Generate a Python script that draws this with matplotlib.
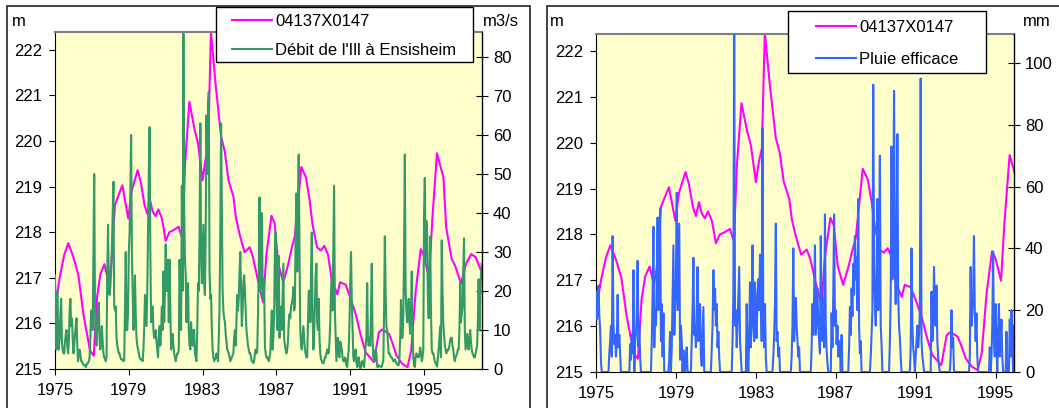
import matplotlib.pyplot as plt
import numpy as np
from matplotlib.patches import Rectangle
from matplotlib.lines import Line2D

plt.rcParams['font.family'] = ['Liberation Sans', 'DejaVu Sans']
plt.rcParams['font.size'] = 12

# Piezometer 04137X0147 (m), read at irregular dates
piezo_dates = [1975.0, 1975.25, 1975.5, 1975.72, 1976.0, 1976.27, 1976.54, 1976.9, 1977.1,
               1977.28, 1977.46, 1977.68, 1977.9, 1978.05, 1978.25, 1978.65, 1978.97, 1979.15,
               1979.48, 1979.65, 1979.85, 1980.0, 1980.15, 1980.3, 1980.45, 1980.6, 1980.8,
               1981.0, 1981.2, 1981.45, 1981.7, 1981.9, 1982.05, 1982.28, 1982.57, 1982.75,
               1983.0, 1983.15, 1983.3, 1983.45, 1983.7, 1984.0, 1984.2, 1984.4, 1984.67,
               1984.8, 1985.0, 1985.27, 1985.55, 1985.73, 1986.0, 1986.28, 1986.46, 1986.73,
               1986.9, 1987.1, 1987.37, 1987.64, 1987.8, 1988.0, 1988.35, 1988.6, 1988.8,
               1988.95, 1989.2, 1989.4, 1989.6, 1989.8, 1990.0, 1990.3, 1990.45, 1990.75,
               1991.0, 1991.3, 1991.55, 1991.83, 1992.28, 1992.55, 1992.74, 1993.1, 1993.28,
               1993.5, 1993.8, 1994.1, 1994.3, 1994.55, 1994.82, 1995.0, 1995.27, 1995.45,
               1995.7, 1996.05, 1996.2, 1996.5, 1996.7, 1997.0, 1997.27, 1997.55, 1997.8, 1998.14]
piezo_levels = [216.32, 217.0, 217.5, 217.76, 217.45, 217.05, 216.2, 215.4, 215.29,
                216.58, 217.08, 217.3, 216.9, 217.3, 218.6, 219.03, 218.3, 218.9,
                219.36, 219.1, 218.6, 218.4, 218.7, 218.45, 218.35, 218.5, 218.3,
                217.81, 218.0, 218.05, 218.12, 217.85, 219.5, 220.86, 220.24, 219.95,
                219.14, 219.58, 219.87, 222.4, 221.26, 220.1, 219.77, 219.14, 218.78,
                218.33, 217.96, 217.56, 217.67, 217.45, 216.94, 216.46, 217.52, 218.36,
                218.2, 217.3, 216.9, 217.3, 217.6, 217.92, 219.43, 219.2, 218.7,
                218.18, 217.67, 217.6, 217.7, 217.5, 216.94, 216.64, 216.9, 216.85,
                216.57, 216.2, 215.77, 215.37, 215.15, 215.8, 215.87, 215.77, 215.58,
                215.3, 215.12, 215.04, 215.4, 216.72, 217.63, 217.47, 216.99, 218.3,
                219.73, 219.2, 218.1, 217.41, 217.25, 216.87, 217.3, 217.52, 217.45, 217.1]

# Discharge of the Ill at Ensisheim (m3/s), twice a month from Jan 1975
debit_ill = [
    24, 8, 5, 20, 10, 5, 8, 14, 18, 7, 5, 4, 4, 7, 9, 10, 6, 4, 7, 15, 18, 11, 13, 8,             # 1975
    4, 6, 9, 11, 13, 6, 2, 4, 5, 4, 2, 2, 1.5, 1, 1, 1, 0.5, 1, 1.5, 1.5, 2, 3, 8, 15,           # 1976
    15, 10, 30, 50, 16, 8, 6, 10, 16, 17, 8, 5, 8, 11, 7, 4, 3, 2.5, 2, 3, 25, 37, 20, 19,       # 1977
    21, 25, 31, 40, 48, 16, 15, 16, 8, 6, 5, 4, 4, 3, 2.5, 2.5, 2.3, 2, 2.3, 15, 30, 10, 10, 15, # 1978
    30, 35, 45, 60, 30, 20, 10, 15, 24, 14, 8, 6, 5, 4, 3, 2.5, 2.5, 2.3, 2, 5, 10, 19, 15, 11,  # 1979
    20, 35, 50, 62, 30, 12, 15, 16, 10, 8, 8, 10, 7, 5, 3, 8, 11, 6, 10, 16, 10, 25, 12, 20,     # 1980
    32, 20, 24, 28, 12, 28, 15, 5, 8, 9, 6, 4, 3, 2, 3, 4, 4, 5, 28, 18, 10, 47, 20, 86,         # 1981
    40, 28, 24, 12, 20, 22, 10, 6, 5, 12, 7, 6, 10, 10, 4, 3, 2, 10, 22, 20, 35, 63, 30, 22,     # 1982
    30, 37, 22, 19, 35, 65, 50, 67, 71, 25, 18, 19, 10, 5, 3, 2, 2.5, 3, 4, 3, 2, 8, 16, 35,     # 1983
    63, 40, 20, 15, 13, 12, 9, 7, 5, 4.5, 4, 3, 2, 2.5, 3, 3.5, 4, 8, 10, 6, 12, 19, 15, 18,     # 1984
    25, 30, 20, 11, 15, 22, 24, 20, 15, 10, 8, 6, 5, 4, 4, 3, 2, 2, 1.5, 2, 4, 5, 4, 4.5,        # 1985
    14, 25, 44, 20, 25, 40, 22, 18, 23, 6, 4, 3, 3, 2.5, 2, 3, 4, 10, 15, 5, 8, 14, 30, 35,      # 1986
    19, 10, 22, 29, 8, 12, 16, 10, 18, 27, 8, 6, 5, 4, 5, 7, 12, 14, 13, 16, 17, 18, 21, 15,     # 1987
    16, 35, 45, 25, 43, 55, 30, 10, 6, 5, 8, 11, 8, 5, 4, 3, 3, 12, 20, 20, 12, 25, 35, 15,      # 1988
    5, 8, 16, 24, 27, 12, 10, 18, 8, 4, 2.5, 2, 1.5, 1.5, 2, 3, 3, 4, 5, 4, 4, 7, 12, 20,        # 1989
    23, 15, 30, 47, 15, 8, 2, 5, 8, 4, 3, 7, 6, 5, 3, 2, 2, 3, 2.5, 1, 0.5, 3, 5, 12,            # 1990
    22, 30, 18, 10, 3, 2, 4, 5, 2, 0.5, 2, 3, 1, 0, 0.5, 2, 2, 1, 0.5, 3, 6, 8, 22, 8,           # 1991
    6, 8, 6, 15, 27, 8, 3, 2, 2, 5, 4, 0.6, 0.5, 1, 0.8, 0.6, 0.5, 0.6, 1.5, 2, 15, 34, 20, 11,  # 1992
    10, 7, 4, 4, 3.5, 3, 3, 2.5, 2, 2, 2.5, 2, 1.5, 1.2, 1, 1, 3, 8, 17.7, 8, 8, 14, 30, 55,     # 1993
    20, 15, 12, 14, 18, 12, 9, 15, 25, 12, 3, 1, 0.5, 3, 4, 3.5, 3, 3, 4, 5.5, 4, 2, 3, 5,       # 1994
    40, 49, 28, 38, 35, 18, 13, 22, 34, 15, 5, 4, 4, 3, 2, 1.5, 1, 0.6, 3, 5, 8, 11, 3, 33,      # 1995
    20, 12, 9, 6, 5, 4, 4.5, 5, 5, 6, 7.5, 8, 8, 6, 5, 3, 2, 3, 3.5, 4, 5, 5, 10, 22,            # 1996
    12, 14, 16, 25, 33.5, 10, 5, 7, 9, 6, 5, 8, 10, 7, 5, 4, 3.5, 3, 3, 4, 5, 6, 12, 23,         # 1997
    10, 18, 24, 27,                                                                              # 1998
]

# Effective rainfall (mm), twice a month from Jan 1975
pluie_efficace = [
    26, 17, 20, 28, 18, 14, 3, 0, 0, 0, 0, 0, 0, 0, 0, 0, 6, 10, 15, 5, 44, 15, 9, 12,     # 1975
    5, 10, 25, 8, 12, 6, 0, 0, 0, 0, 0, 0, 0, 0, 0, 0, 0, 9, 4, 12, 6, 33, 0, 10,          # 1976
    12, 20, 36, 8, 15, 5, 0, 0, 0, 0, 0, 0, 0, 0, 0, 0, 0, 0, 0, 10, 25, 47, 8, 20,        # 1977
    15, 30, 50, 20, 35, 53, 10, 22, 5, 19, 0, 0, 0, 0, 0, 0, 5, 13, 0, 8, 25, 41, 12, 20,  # 1978
    30, 58, 20, 35, 48, 4, 15, 10, 0, 7, 0, 0, 5, 8, 0, 0, 0, 0, 0, 10, 20, 37, 12, 15,    # 1979
    8, 20, 34, 10, 15, 22, 5, 2, 12, 21, 0, 0, 0, 0, 0, 0, 0, 0, 0, 8, 15, 33, 20, 27,     # 1980
    15, 22, 8, 13, 5, 0, 0, 0, 0, 0, 0, 0, 0, 0, 0, 0, 0, 0, 0, 0, 10, 25, 112, 15,        # 1981
    20, 8, 15, 25, 34, 10, 5, 0, 0, 0, 0, 0, 0, 22, 5, 0, 12, 29, 8, 20, 41, 15, 10, 29,   # 1982
    15, 11, 25, 30, 20, 38, 28, 10, 79, 15, 8, 22, 5, 0, 0, 0, 0, 0, 0, 0, 0, 5, 12, 23,   # 1983
    48, 10, 13, 5, 8, 0, 0, 0, 0, 0, 0, 0, 0, 0, 0, 0, 0, 0, 0, 5, 15, 40, 10, 18,         # 1984
    24, 15, 10, 5, 8, 0, 0, 0, 0, 0, 0, 0, 0, 0, 0, 0, 0, 0, 0, 8, 22, 12, 25, 41,         # 1985
    12, 20, 27, 15, 10, 6, 44, 20, 10, 24, 8, 51, 15, 7, 3, 0, 0, 0, 0, 19, 8, 25, 51, 15, # 1986
    20, 9, 15, 5, 10, 8, 0, 12, 0, 0, 0, 0, 0, 0, 0, 0, 8, 21, 12, 27, 18, 35, 25, 44,     # 1987
    30, 37, 20, 56, 15, 6, 10, 0, 0, 0, 0, 0, 0, 0, 0, 0, 0, 0, 5, 12, 20, 93, 35, 22,     # 1988
    15, 30, 56, 20, 40, 70, 15, 9, 0, 0, 0, 0, 0, 0, 0, 0, 0, 10, 25, 73, 30, 45, 91, 35,  # 1989
    22, 40, 77, 25, 15, 11, 5, 0, 0, 0, 0, 0, 0, 0, 0, 0, 0, 0, 8, 40, 15, 8, 5, 0,        # 1990
    5, 10, 15, 8, 12, 20, 95, 10, 5, 3, 0, 0, 0, 0, 0, 0, 0, 0, 0, 26, 10, 15, 34, 20,     # 1991
    15, 28, 10, 5, 2, 0, 0, 0, 0, 0, 0, 0, 0, 0, 0, 0, 0, 0, 5, 20, 8, 11, 0, 0,           # 1992
    0, 0, 0, 0, 0, 0, 0, 0, 0, 0, 0, 0, 0, 0, 0, 0, 0, 5, 34, 15, 19, 25, 44, 20,          # 1993
    10, 19, 5, 0, 0, 0, 0, 0, 0, 0, 0, 0, 0, 0, 0, 0, 0, 8, 0, 5, 15, 39, 10, 5,           # 1994
    22, 8, 0, 12, 22, 5, 10, 17, 5, 0, 0, 0, 0, 13, 0, 0, 0, 17, 5, 20, 10, 0, 15,         # 1995
]

year_ticks = [1975, 1979, 1983, 1987, 1991, 1995]
level_ticks = [215, 216, 217, 218, 219, 220, 221, 222]

W, H = 1059, 408
fig = plt.figure(figsize=(W / 100, H / 100), dpi=100)


def box(x0, y0, x1, y1, **kw):
    # rectangle given in pixel coords (origin top-left)
    r = Rectangle((x0 / W, 1 - y1 / H), (x1 - x0) / W, (y1 - y0) / H,
                  transform=fig.transFigure, **kw)
    fig.patches.append(r)


def panel(px0, py0, px1, py1, xmax, ymax, y2max, y2ticks, vals, color):
    ax = fig.add_axes([px0 / W, 1 - py1 / H, (px1 - px0) / W, (py1 - py0) / H])
    ax.set_facecolor('#ffffcc')
    ax.plot(piezo_dates, piezo_levels, color='#ff00ff', lw=1.5)
    ax.set_xlim(1975, xmax)
    ax.set_ylim(215, ymax)
    ax.set_yticks(level_ticks)
    ax.set_xticks(year_ticks)
    ax.tick_params(axis='y', direction='out', length=4, width=0.8, pad=5.5)
    ax.tick_params(axis='x', direction='out', length=4, width=0.8, pad=6)
    ax.spines['top'].set_color('#808080')
    ax.spines['top'].set_linewidth(1.5)
    ax.spines['right'].set_visible(False)

    ax2 = ax.twinx()
    t = 1975 + np.arange(len(vals)) / 24
    ax2.plot(t, vals, color=color, lw=1.5)
    ax2.set_ylim(0, y2max)
    ax2.set_yticks(y2ticks)
    ax2.tick_params(axis='y', direction='inout', length=8, width=0.8, pad=4)
    for s in ['top', 'left', 'bottom']:
        ax2.spines[s].set_visible(False)
    ax2.spines['right'].set_linewidth(1)
    return ax, ax2


# outer chart frames
box(7, 6, 530, 420, fill=False, edgecolor='#222222', lw=1.2, zorder=0.5)
box(547, 6, 1080, 420, fill=False, edgecolor='#222222', lw=1.2, zorder=0.5)

panel(55, 32, 482, 369, 1998.14, 222.39, 86.4, range(0, 81, 10),
      debit_ill, '#339966')
panel(596, 34, 1014, 372, 1995.92, 222.37, 109.4, range(0, 101, 20),
      pluie_efficace, '#3366ff')

fig.text(12 / W, 1 - 22 / H, 'm', va='center', ha='left')
fig.text(483 / W, 1 - 22 / H, 'm3/s', va='center', ha='left')
fig.text(550 / W, 1 - 22 / H, 'm', va='center', ha='left')
fig.text(1023 / W, 1 - 22 / H, 'mm', va='center', ha='left')

# legends
box(216, 7, 473, 62, facecolor='white', edgecolor='black', lw=1, zorder=2)
box(788, 11, 986, 73, facecolor='white', edgecolor='black', lw=1, zorder=2)

h_piezo = Line2D([], [], color='#ff00ff', lw=1.5)
h_debit = Line2D([], [], color='#339966', lw=1.5)
h_pluie = Line2D([], [], color='#3366ff', lw=1.5)

fig.legend([h_piezo, h_debit], ['04137X0147', "Débit de l'Ill à Ensisheim"],
           loc='upper left', bbox_to_anchor=(232 / W, 1 - 14 / H), frameon=False,
           borderpad=0, borderaxespad=0, handlelength=2.4, handletextpad=0.2,
           labelspacing=0.85)
fig.legend([h_piezo, h_pluie], ['04137X0147', 'Pluie efficace'],
           loc='upper left', bbox_to_anchor=(816 / W, 1 - 20 / H), frameon=False,
           borderpad=0, borderaxespad=0, handlelength=2.4, handletextpad=0.2,
           labelspacing=1.0)

fig.savefig('out.png', dpi=100)
